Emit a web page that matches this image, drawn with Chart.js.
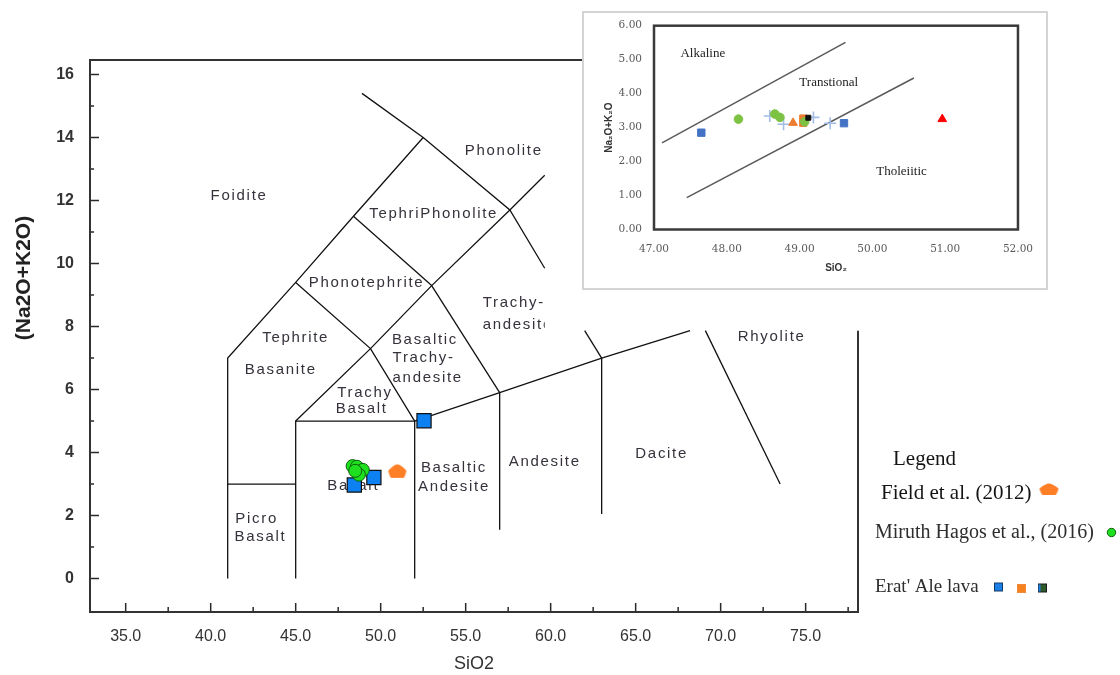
<!DOCTYPE html>
<html>
<head>
<meta charset="utf-8">
<title>TAS diagram – Erta Ale basalts</title>
<script src="https://cdn.jsdelivr.net/npm/chart.js@4.4.1/dist/chart.umd.min.js"></script>
<style>
  html, body { margin: 0; padding: 0; background: #ffffff; }
  #stage { position: relative; width: 1120px; height: 675px; overflow: hidden; background: #fff; }
  #tas { position: absolute; left: 0; top: 0; }
  #insetFrame { position: absolute; left: 582px; top: 11px; width: 462px; height: 275px;
                border: 2px solid #d4d4d4; background: #fff; }
  #inset { position: absolute; left: 0; top: 0; filter: blur(0.35px); }
</style>
</head>
<body>
<div id="stage">
  <canvas id="tas" width="1120" height="675"></canvas>
  <div id="insetFrame"><canvas id="inset" width="462" height="275"></canvas></div>
</div>
<script>
// ---------- TAS classification diagram ----------
// Sample compositions: SiO2 vs total alkalis (wt%)
const fieldSiO2 = [50.98];
const fieldAlkali = [3.42];
const hagosSiO2 = [48.35, 48.60, 48.95, 48.72, 48.50];
const hagosAlkali = [3.57, 3.55, 3.45, 3.30, 3.42];
const erataleSiO2 = [48.45, 49.60, 52.55];
const erataleAlkali = [2.97, 3.21, 5.01];

// Field boundaries as [SiO2, Na2O+K2O] vertices
const foiditeLine = [[41, 0], [41, 7], [45, 9.4], [48.4, 11.5], [52.5, 14]];
const phonoliteLine = [[48.9, 15.4], [52.5, 14], [57.6, 11.7], [59.65, 9.85]];
const tephriphonoliteLine = [[48.4, 11.5], [53, 9.3]];
const tephriteLine = [[45, 9.4], [49.4, 7.3], [52, 5]];
const trachyLine = [[45, 5], [49.4, 7.3], [53, 9.3], [57.6, 11.7], [59.65, 12.8]];
const trachyandesiteLine = [[53, 9.3], [57, 5.9]];
const picroLine = [[41, 3], [45, 3]];
const basaltBox = [[45, 0], [45, 5], [52, 5], [52, 0]];
const andesiteLine = [[57, 5.9], [57, 1.55]];
const daciteLine = [[63, 7], [63, 2.05]];
const subalkalineTop = [[52, 5], [57, 5.9], [63, 7], [68.2, 7.87]];
const trachydaciteStub = [[62, 7.87], [63, 7]];
const rhyoliteLine = [[69.1, 7.87], [73.5, 3.0]];

const boundaryLines = [foiditeLine, phonoliteLine, tephriphonoliteLine, tephriteLine, trachyLine,
  trachyandesiteLine, picroLine, basaltBox, andesiteLine, daciteLine, subalkalineTop,
  trachydaciteStub, rhyoliteLine];

// Field names and where they sit (SiO2, alkalis)
const fieldLabels = [
  { text: 'Foidite', at: [41.67, 12.14] },
  { text: 'Phonolite', at: [57.24, 13.58] },
  { text: 'TephriPhonolite', at: [53.12, 11.59] },
  { text: 'Phonotephrite', at: [49.17, 9.40] },
  { text: 'Tephrite', at: [45.0, 7.64] },
  { text: 'Basanite', at: [44.12, 6.64] },
  { text: 'Basaltic', at: [50.66, 7.57], align: 'left' },
  { text: 'Trachy-', at: [50.7, 7.0], align: 'left' },
  { text: 'andesite', at: [50.7, 6.37], align: 'left' },
  { text: 'Trachy-', at: [56.0, 8.74], align: 'left' },
  { text: 'andesite', at: [56.0, 8.05], align: 'left', clipAt: 59.65 },
  { text: 'Trachy', at: [49.08, 5.91] },
  { text: 'Basalt', at: [48.88, 5.40] },
  { text: 'Basalt', at: [48.39, 2.95] },
  { text: 'Basaltic', at: [54.31, 3.50] },
  { text: 'Andesite', at: [54.31, 2.90] },
  { text: 'Andesite', at: [59.65, 3.71] },
  { text: 'Picro', at: [42.7, 1.91] },
  { text: 'Basalt', at: [42.93, 1.31] },
  { text: 'Dacite', at: [66.53, 3.95] },
  { text: 'Rhyolite', at: [73.0, 7.66] }
];

// ---------- alkaline / tholeiitic inset ----------
const insetBlueSiO2 = [47.65, 49.61];
const insetBlueAlkali = [2.85, 3.13];
const insetGreenSiO2 = [48.16, 48.66, 48.73, 49.07];
const insetGreenAlkali = [3.25, 3.40, 3.30, 3.17];
const insetOrangeTriSiO2 = [48.91];
const insetOrangeTriAlkali = [3.14];
const insetOrangeSqSiO2 = [49.05, 49.05];
const insetOrangeSqAlkali = [3.27, 3.14];
const insetBlackSiO2 = [49.12];
const insetBlackAlkali = [3.29];
const insetCrossSiO2 = [48.59, 48.78, 49.19, 49.42];
const insetCrossAlkali = [3.34, 3.10, 3.30, 3.13];
const insetRedSiO2 = [50.96];
const insetRedAlkali = [3.25];
const alkalineDivide = [[47.11, 2.55], [49.63, 5.51]];
const tholeiiticDivide = [[47.45, 0.94], [50.57, 4.46]];
const seriesLabels = [
  { text: 'Alkaline', at: [47.67, 5.17] },
  { text: 'Transtional', at: [49.40, 4.32] },
  { text: 'Tholeiitic', at: [50.40, 1.70] }
];

// ---------- helpers ----------
const zip = (xs, ys) => xs.map((x, i) => ({ x: x, y: ys[i] }));
const toPoints = pts => pts.map(p => ({ x: p[0], y: p[1] }));

// rounded "house" marker used for the Field et al. samples
function cloudMarker(w, h, color) {
  const c = document.createElement('canvas');
  c.width = w + 4; c.height = h + 4;
  const g = c.getContext('2d');
  g.translate(2, 2);
  g.fillStyle = color; g.strokeStyle = color;
  g.lineWidth = 3; g.lineJoin = 'round';
  g.beginPath();
  g.moveTo(w * 0.5, 1);
  g.quadraticCurveTo(w * 0.66, 1, w * 0.97, h * 0.52);
  g.lineTo(w * 0.86, h - 0.5);
  g.lineTo(w * 0.14, h - 0.5);
  g.lineTo(w * 0.03, h * 0.52);
  g.quadraticCurveTo(w * 0.34, 1, w * 0.5, 1);
  g.closePath();
  g.fill(); g.stroke();
  return c;
}
const orange = '#ff7f27';
const cloudPoint = cloudMarker(16, 12, orange);
const cloudLegend = cloudMarker(17, 10, orange);

const sans = '"Liberation Sans", Arial, sans-serif';
const serif = '"Liberation Serif", "Times New Roman", serif';

// ---------- main diagram decorations ----------
const tasDecor = {
  id: 'tasDecor',
  beforeDatasetsDraw(chart) {
    const { ctx, scales: { x, y } } = chart;
    ctx.save();
    ctx.font = '15px ' + sans;
    ctx.letterSpacing = '1.7px';
    ctx.fillStyle = '#36313b';
    ctx.textBaseline = 'middle';
    fieldLabels.forEach(l => {
      ctx.save();
      if (l.clipAt !== undefined) {
        ctx.beginPath();
        ctx.rect(0, 0, x.getPixelForValue(l.clipAt), chart.height);
        ctx.clip();
      }
      ctx.textAlign = l.align || 'center';
      ctx.fillText(l.text, x.getPixelForValue(l.at[0]), y.getPixelForValue(l.at[1]));
      ctx.restore();
    });
    ctx.restore();
  },
  afterDraw(chart) {
    const { ctx, chartArea: a, scales: { x, y } } = chart;
    ctx.save();
    // inward tick marks, major and minor
    ctx.strokeStyle = '#2a2a2a';
    ctx.lineWidth = 1.5;
    ctx.beginPath();
    const xs = x.ticks.map(t => t.value);
    const xStep = xs[1] - xs[0];
    xs.forEach(v => {
      const p = x.getPixelForValue(v);
      ctx.moveTo(p, a.bottom); ctx.lineTo(p, a.bottom - 9);
    });
    [xs[0] - xStep / 2].concat(xs.map(v => v + xStep / 2)).forEach(v => {
      if (v <= x.min + 0.3 || v >= x.max - 0.3) return;
      const p = x.getPixelForValue(v);
      ctx.moveTo(p, a.bottom); ctx.lineTo(p, a.bottom - 5);
    });
    const ys = y.ticks.map(t => t.value);
    const yStep = ys[1] - ys[0];
    ys.forEach(v => {
      const p = y.getPixelForValue(v);
      ctx.moveTo(a.left, p); ctx.lineTo(a.left + 9, p);
    });
    [ys[0] - yStep / 2].concat(ys.map(v => v + yStep / 2)).forEach(v => {
      if (v <= y.min + 0.3 || v >= y.max - 0.3) return;
      const p = y.getPixelForValue(v);
      ctx.moveTo(a.left, p); ctx.lineTo(a.left + 4, p);
    });
    ctx.stroke();

    // plot frame (right side only below the diagram's upper limit)
    ctx.strokeStyle = '#333';
    ctx.lineWidth = 2;
    ctx.beginPath();
    ctx.moveTo(a.right, y.getPixelForValue(7.87));
    ctx.lineTo(a.right, a.bottom);
    ctx.lineTo(a.left, a.bottom);
    ctx.lineTo(a.left, a.top);
    ctx.lineTo(a.right, a.top);
    ctx.stroke();

    // vertical axis title
    ctx.save();
    ctx.translate(24, 278);
    ctx.rotate(-Math.PI / 2);
    ctx.font = 'bold 21px ' + sans;
    ctx.fillStyle = '#222';
    ctx.textAlign = 'center';
    ctx.textBaseline = 'middle';
    ctx.fillText('(Na2O+K2O)', 0, 0);
    ctx.restore();

    // legend
    ctx.textAlign = 'left';
    ctx.textBaseline = 'middle';
    ctx.fillStyle = '#141414';
    ctx.font = '21px ' + serif;
    ctx.fillText('Legend', 893, 459);
    ctx.fillText('Field et al. (2012)', 881, 493);
    ctx.drawImage(cloudLegend, 1049 - cloudLegend.width / 2, 489 - cloudLegend.height / 2);
    ctx.fillStyle = '#2e2e2e';
    ctx.font = '20px ' + serif;
    ctx.fillText('Miruth Hagos et al., (2016)', 875, 533);
    ctx.beginPath();
    ctx.arc(1111.5, 532.5, 4.2, 0, Math.PI * 2);
    ctx.fillStyle = '#1ee01e';
    ctx.fill();
    ctx.lineWidth = 1;
    ctx.strokeStyle = '#0d5e0d';
    ctx.stroke();
    ctx.fillStyle = '#2e2e2e';
    ctx.font = '19px ' + serif;
    ctx.fillText("Erat' Ale lava", 875, 587);
    const sq = (cx, cy, fill, edge) => {
      ctx.fillStyle = fill;
      ctx.fillRect(cx - 4, cy - 4, 8, 8);
      ctx.strokeStyle = edge; ctx.lineWidth = 1;
      ctx.strokeRect(cx - 4, cy - 4, 8, 8);
    };
    sq(998.5, 587, '#1b7fe6', '#123a66');
    sq(1021.5, 588.5, '#f5821f', '#f08a3a');
    sq(1042.5, 588, '#2f5a2a', '#1b1b1b');
    ctx.fillStyle = '#1b7fe6';
    ctx.fillRect(1038.5, 584.5, 2, 7);
    ctx.restore();
  }
};

new Chart(document.getElementById('tas'), {
  type: 'scatter',
  data: {
    datasets: [
      { label: 'Miruth Hagos et al., (2016)', data: zip(hagosSiO2, hagosAlkali), pointStyle: 'circle',
        pointRadius: 6.5, backgroundColor: '#1ee01e', borderColor: '#0d5e0d', borderWidth: 1, order: 0 },
      { label: 'Field et al. (2012)', data: zip(fieldSiO2, fieldAlkali), pointStyle: cloudPoint,
        pointRadius: 9, order: 1 },
      { label: "Erat' Ale lava", data: zip(erataleSiO2, erataleAlkali), pointStyle: 'rect',
        pointRadius: 10, backgroundColor: '#0d80f2', borderColor: '#101010', borderWidth: 1.2, order: 2 }
    ].concat(boundaryLines.map(pts => ({
      data: toPoints(pts), showLine: true, borderColor: '#111', borderWidth: 1.3,
      pointRadius: 0, fill: false, tension: 0, order: 5
    })))
  },
  options: {
    responsive: false,
    animation: false,
    events: [],
    layout: { padding: { left: 0, top: 60, right: 262, bottom: 0 } },
    plugins: { legend: { display: false }, tooltip: { enabled: false } },
    scales: {
      x: {
        type: 'linear', position: 'bottom', min: 32.9, max: 78.08,
        ticks: { stepSize: 5, includeBounds: false, autoSkip: false, maxRotation: 0, padding: 15,
                 color: '#333', font: { family: sans, size: 16 }, callback: v => Number(v).toFixed(1) },
        grid: { display: false, drawTicks: false },
        border: { display: false },
        title: { display: true, text: 'SiO2', color: '#333', font: { family: sans, size: 18 },
                 padding: { top: 0, bottom: 0 } },
        afterFit: s => { s.height = 63; }
      },
      y: {
        type: 'linear', position: 'left', min: -1.06, max: 16.46,
        ticks: { stepSize: 2, includeBounds: false, padding: 16, color: '#333',
                 font: { family: sans, size: 16, weight: 'bold' } },
        grid: { display: false, drawTicks: false },
        border: { display: false },
        afterFit: s => { s.width = 90; }
      }
    }
  },
  plugins: [tasDecor]
});

// ---------- inset decorations ----------
const insetDecor = {
  id: 'insetDecor',
  afterDraw(chart) {
    const { ctx, chartArea: a, scales: { x, y } } = chart;
    ctx.save();
    ctx.strokeStyle = '#3a3a3a';
    ctx.lineWidth = 2.5;
    ctx.strokeRect(a.left, a.top, a.right - a.left, a.bottom - a.top);
    ctx.font = '13px ' + serif;
    ctx.fillStyle = '#222';
    ctx.textAlign = 'center';
    ctx.textBaseline = 'middle';
    seriesLabels.forEach(l => {
      ctx.fillText(l.text, x.getPixelForValue(l.at[0]), y.getPixelForValue(l.at[1]));
    });
    ctx.restore();
  }
};

const insetTick = { family: '"DejaVu Serif", serif', size: 10.5 };
new Chart(document.getElementById('inset'), {
  type: 'scatter',
  data: {
    datasets: [
      { data: zip(insetRedSiO2, insetRedAlkali), pointStyle: 'triangle', pointRadius: 5,
        backgroundColor: '#ff0000', borderColor: '#ff0000', borderWidth: 1, order: 0 },
      { data: zip(insetBlackSiO2, insetBlackAlkali), pointStyle: 'rect', pointRadius: 3.5,
        backgroundColor: '#111', borderColor: '#111', borderWidth: 1, order: 1 },
      { data: zip(insetGreenSiO2, insetGreenAlkali), pointStyle: 'circle', pointRadius: 4.3,
        backgroundColor: '#7dc243', borderColor: '#7dc243', borderWidth: 1, order: 2 },
      { data: zip(insetOrangeSqSiO2, insetOrangeSqAlkali), pointStyle: 'rect', pointRadius: 5,
        backgroundColor: '#ed7d31', borderColor: '#ed7d31', borderWidth: 1, order: 3 },
      { data: zip(insetOrangeTriSiO2, insetOrangeTriAlkali), pointStyle: 'triangle', pointRadius: 5,
        backgroundColor: '#ed7d31', borderColor: '#ed7d31', borderWidth: 1, order: 4 },
      { data: zip(insetCrossSiO2, insetCrossAlkali), pointStyle: 'cross', pointRadius: 6,
        backgroundColor: '#a3bde6', borderColor: '#a3bde6', borderWidth: 1.6, order: 5 },
      { data: zip(insetBlueSiO2, insetBlueAlkali), pointStyle: 'rect', pointRadius: 5.2,
        backgroundColor: '#4472c4', borderColor: '#4472c4', borderWidth: 1, order: 6 },
      { data: toPoints(alkalineDivide), showLine: true, borderColor: '#5a5a5a', borderWidth: 1.5,
        pointRadius: 0, order: 8 },
      { data: toPoints(tholeiiticDivide), showLine: true, borderColor: '#5a5a5a', borderWidth: 1.5,
        pointRadius: 0, order: 8 }
    ]
  },
  options: {
    responsive: false,
    animation: false,
    events: [],
    layout: { padding: { left: 0, top: 12.7, right: 28, bottom: 0 } },
    plugins: { legend: { display: false }, tooltip: { enabled: false } },
    scales: {
      x: {
        type: 'linear', min: 47, max: 52,
        ticks: { stepSize: 1, padding: 13, color: '#5a5a5a', font: insetTick, maxRotation: 0,
                 callback: v => Number(v).toFixed(2) },
        grid: { display: false, drawTicks: false },
        border: { display: false },
        title: { display: true, text: 'SiO₂', color: '#333',
                 font: { family: sans, size: 10, weight: 'bold' }, padding: { top: 0, bottom: 14 } },
        afterFit: s => { s.height = 58.5; }
      },
      y: {
        type: 'linear', min: 0, max: 6,
        ticks: { stepSize: 1, padding: 12, color: '#5a5a5a', font: insetTick,
                 callback: v => Number(v).toFixed(2) },
        grid: { display: false, drawTicks: false },
        border: { display: false },
        title: { display: true, text: 'Na₂O+K₂O', color: '#333',
                 font: { family: sans, size: 10, weight: 'bold' }, padding: { top: 19, bottom: 0 } },
        // the plot box is placed by the layout padding, not by the label overhang
        afterFit: s => { s.width = 70; s.paddingTop = 0; s.paddingBottom = 0; }
      }
    }
  },
  plugins: [insetDecor]
});
</script>
</body>
</html>
